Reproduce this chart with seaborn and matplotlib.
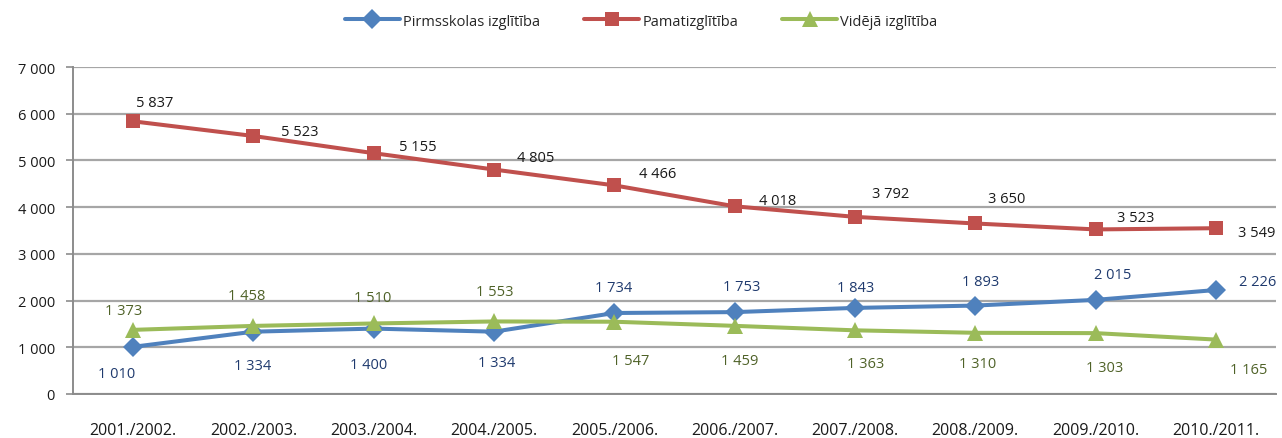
import matplotlib
matplotlib.use("Agg")
import matplotlib.pyplot as plt
import seaborn as sns
import pandas as pd

years = ["2001./2002.", "2002./2003.", "2003./2004.", "2004./2005.", "2005./2006.",
         "2006./2007.", "2007./2008.", "2008./2009.", "2009./2010.", "2010./2011."]
pirmsskolas = [1010, 1334, 1400, 1334, 1734, 1753, 1843, 1893, 2015, 2226]
pamat = [5837, 5523, 5155, 4805, 4466, 4018, 3792, 3650, 3523, 3549]
videja = [1373, 1458, 1510, 1553, 1547, 1459, 1363, 1310, 1303, 1165]
names = ["Pirmsskolas izglītība", "Pamatizglītība", "Vidējā izglītība"]
y_ticks = [0, 1000, 2000, 3000, 4000, 5000, 6000, 7000]

# label offsets in pixels (dx, dy) relative to each point
off_pirms = [(-17, -27), (-1, -34), (-5, -36), (3, -31), (-1, 25), (7, 26),
             (1, 20), (5, 24), (17, 25), (42, 9)]
off_pamat = [(22, 19), (46, 4), (44, 7), (42, 12), (43, 12), (43, 6),
             (36, 23), (31, 25), (40, 12), (41, -4)]
off_vid = [(-10, 19), (-7, 30), (-1, 26), (1, 30), (16, -39), (5, -35),
           (11, -33), (2, -31), (9, -34), (33, -30)]

colors = {"Pirmsskolas izglītība": "#4F81BD", "Pamatizglītība": "#C0504D",
          "Vidējā izglītība": "#9BBB59"}
markers = {"Pirmsskolas izglītība": "D", "Pamatizglītība": "s", "Vidējā izglītība": "^"}
msizes = {"Pirmsskolas izglītība": 10, "Pamatizglītība": 10.5, "Vidējā izglītība": 11}
label_colors = {"Pirmsskolas izglītība": "#1F3A6E", "Pamatizglītība": "#1A1A1A",
                "Vidējā izglītība": "#4F6228"}

sns.set_theme(style="white")
plt.rcParams['font.family'] = ['Open Sans', 'DejaVu Sans']


def fmt(v):
    return f"{v:,}".replace(",", " ")


def main():
    df = pd.DataFrame({"gads": years, names[0]: pirmsskolas,
                       names[1]: pamat, names[2]: videja})
    df = df.melt(id_vars="gads", var_name="veids", value_name="skaits")

    fig = plt.figure(figsize=(12.82, 4.39), dpi=100)
    ax = fig.add_axes([73 / 1282, 1 - 395 / 439, (1276 - 73) / 1282, (395 - 68) / 439])

    for name in names:
        sub = df[df["veids"] == name]
        sns.lineplot(data=sub, x="gads", y="skaits", ax=ax, color=colors[name],
                     marker=markers[name], markersize=msizes[name], linewidth=2.9,
                     markeredgewidth=0, label=name, sort=False)

    for name, offs in zip(names, [off_pirms, off_pamat, off_vid]):
        sub = df[df["veids"] == name].reset_index(drop=True)
        for i, row in sub.iterrows():
            ax.annotate(fmt(row["skaits"]), (i, row["skaits"]), xytext=offs[i],
                        textcoords="offset pixels", ha="center", va="center",
                        fontsize=10.5, color=label_colors[name])

    ax.set_xlim(-0.5, len(years) - 0.5)
    ax.set_ylim(0, 7000)
    ax.set_yticks(y_ticks)
    ax.set_yticklabels([fmt(v) for v in y_ticks], fontsize=10.5, color="#1A1A1A")
    ax.set_xticks(range(len(years)))
    ax.set_xticklabels(years, fontsize=11.5, color="#1A1A1A")
    ax.set_xticks([i - 0.5 for i in range(len(years) + 1)], minor=True)
    ax.tick_params(axis="x", which="major", length=0, pad=20)
    ax.tick_params(axis="x", which="minor", length=5, color="#8C8C8C", width=1.2, direction="out")
    ax.tick_params(axis="y", length=5, color="#8C8C8C", width=1.2, pad=8, left=True)
    ax.set_xlabel("")
    ax.set_ylabel("")
    ax.grid(axis="y", color="#A6A6A6", linewidth=1.6)
    ax.set_axisbelow(True)
    for s in ["top", "right"]:
        ax.spines[s].set_visible(False)
    for s in ["left", "bottom"]:
        ax.spines[s].set_color("#8C8C8C")
        ax.spines[s].set_linewidth(1.4)

    handles, labels = ax.get_legend_handles_labels()
    ax.legend_.remove()
    fig.legend(handles, labels, loc="center", bbox_to_anchor=(0.5, 1 - 22 / 439), ncol=3,
               frameon=False, fontsize=10.5, handlelength=3.8, columnspacing=3.0,
               handletextpad=0.2)

    fig.savefig("out.png", dpi=100)


if __name__ == "__main__":
    main()
